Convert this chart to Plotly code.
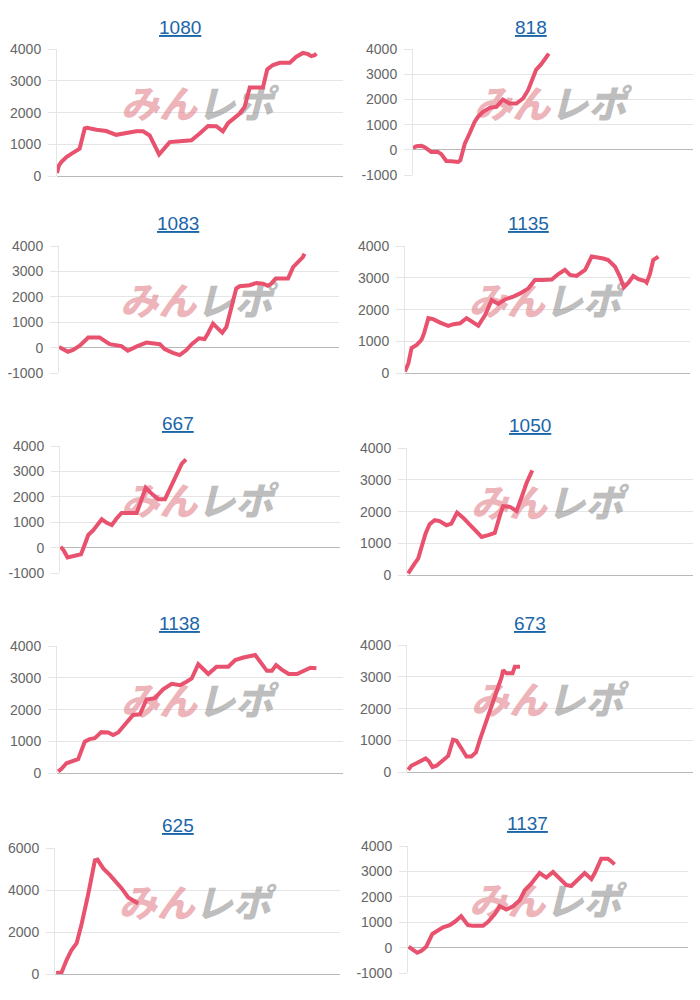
import plotly.graph_objects as go

# ---------------- data ----------------
titles = ["1080", "818", "1083", "1135", "667", "1050", "1138", "673", "625", "1137"]

xs_1080 = [0, 0.7, 1.5, 3.3, 5.0, 7.3, 7.9, 9.7, 10.5, 13.8, 17.2, 20.7, 24.2, 27.7, 30.1, 32.4, 35.7, 37.6,
           39.4, 42.9, 47.0, 49.9, 52.8, 55.7, 58.0, 59.8, 61.5, 63.9, 65.6, 67.4, 72.0, 73.5, 75.5, 77.9,
           81.4, 83.7, 86.0, 87.8, 88.9, 90.1, 90.7]
ys_1080 = [100, 340, 440, 600, 700, 810, 860, 1500, 1520, 1460, 1420, 1300, 1360, 1410, 1410, 1280, 680, 860,
           1070, 1100, 1130, 1340, 1580, 1570, 1410, 1670, 1810, 1970, 2180, 2790, 2790, 3360, 3500, 3570,
           3570, 3760, 3880, 3840, 3780, 3810, 3860]

xs_818 = [0, 1.2, 3.0, 4.2, 6.5, 8.9, 10.1, 11.9, 13.7, 16.1, 16.9, 18.5, 20.2, 22.0, 23.2, 25.0, 27.4, 29.8,
          32.1, 34.5, 36.9, 39.3, 41.1, 42.9, 44.0, 45.8, 47.0, 47.6, 48.5]
ys_818 = [80, 145, 160, 105, -80, -80, -170, -440, -450, -480, -410, 250, 650, 1110, 1310, 1510, 1670, 1710,
          2000, 1840, 1840, 2040, 2370, 2830, 3190, 3400, 3560, 3690, 3820]

xs_1083 = [0, 1.4, 3.2, 5.0, 7.4, 9.8, 10.4, 14.5, 15.7, 18.1, 22.3, 24.6, 27.6, 31.2, 36.0, 37.7, 40.7, 43.1,
           45.5, 47.3, 50.0, 52.0, 53.2, 55.0, 56.8, 58.3, 59.8, 61.5, 63.3, 64.5, 68.1, 70.5, 72.9, 74.6,
           75.8, 77.4, 81.8, 83.6, 85.4, 87.1, 87.7]
ys_1083 = [30, -65, -160, -90, 80, 330, 400, 400, 300, 140, 65, -120, 40, 200, 140, -50, -200, -290,
           -90, 130, 370, 340, 560, 950, 750, 590, 820, 1610, 2330, 2420, 2460, 2550, 2520, 2440,
           2520, 2720, 2720, 3170, 3370, 3570, 3700]

xs_1135 = [0, 1.2, 2.3, 4.1, 5.8, 6.7, 8.2, 9.9, 12.3, 15.2, 17.0, 19.3, 21.6, 24.0, 25.7, 28.1, 30.4, 32.7,
           35.1, 38.0, 40.4, 43.3, 45.6, 48.0, 51.5, 53.8, 56.1, 57.9, 60.2, 63.2, 65.5, 69.6, 71.3, 73.7,
           75.4, 76.8, 78.4, 80.1, 81.9, 84.2, 84.8, 86.0, 87.1, 88.9]
ys_1135 = [50, 310, 790, 890, 1050, 1260, 1730, 1700, 1590, 1490, 1540, 1570, 1730, 1590, 1490, 1830, 2300, 2180,
           2320, 2410, 2510, 2670, 2930, 2930, 2950, 3120, 3250, 3090, 3060, 3250, 3670, 3610, 3560, 3350,
           3040, 2700, 2850, 3060, 2960, 2900, 2850, 3140, 3560, 3670]

xs_667 = [0.2, 1.2, 2.7, 4.2, 5.4, 7.5, 8.3, 10.1, 11.9, 14.9, 16.7, 18.5, 20.2, 22.0, 27.4, 28.6, 30.6, 32.7,
          35.1, 37.5, 39.3, 41.1, 42.3, 43.5, 45.0]
ys_667 = [40, -90, -380, -350, -290, -260, -30, 500, 690, 1120, 980, 890, 1150, 1370, 1370, 1740, 2360, 2130,
          1910, 1910, 2330, 2790, 3120, 3310, 3480]

xs_1050 = [0.4, 1.2, 2.7, 3.9, 5.0, 6.5, 7.9, 9.7, 11.4, 13.8, 15.5, 17.5, 19.6, 22.0, 24.3, 26.1, 28.4, 30.7,
           32.5, 33.6, 36.0, 38.3, 40.1, 41.8, 43.8]
ys_1050 = [50, 180, 370, 520, 890, 1310, 1600, 1730, 1700, 1570, 1620, 1970, 1810, 1570, 1340, 1200, 1260, 1330,
           1880, 2170, 2150, 2020, 2460, 2900, 3300]

xs_1138 = [0.4, 1.5, 3.3, 5.0, 7.4, 9.7, 11.4, 13.2, 15.5, 17.9, 19.6, 21.4, 24.3, 26.6, 29.0, 31.3, 34.2, 37.1,
           40.1, 43.0, 45.3, 47.1, 49.4, 51.2, 52.9, 55.8, 59.9, 62.3, 65.2, 69.3, 71.6, 73.4, 75.1, 76.6,
           78.6, 81.0, 83.9, 86.8, 88.6, 90.7]
ys_1138 = [50, 130, 310, 370, 440, 990, 1070, 1100, 1290, 1280, 1200, 1280, 1570, 1830, 1850, 2320, 2360, 2640,
           2810, 2770, 2880, 2980, 3430, 3260, 3120, 3350, 3350, 3560, 3640, 3720, 3460, 3220, 3220, 3400,
           3260, 3120, 3120, 3250, 3320, 3300]

xs_673 = [0.4, 1.5, 3.3, 5.0, 6.5, 7.7, 8.9, 10.3, 12.0, 14.4, 16.1, 17.3, 19.0, 20.8, 22.5, 24.1, 25.5, 27.2,
          29.0, 31.3, 33.1, 33.6, 34.8, 36.9, 37.7, 39.5]
ys_673 = [70, 200, 280, 360, 430, 340, 160, 200, 340, 510, 1020, 990, 750, 490, 490, 620, 1020, 1490,
          1960, 2530, 3000, 3210, 3110, 3110, 3320, 3320]

xs_625 = [0.4, 2.3, 4.1, 5.8, 7.6, 9.4, 11.7, 14.0, 14.9, 17.0, 19.3, 21.6, 23.4, 25.7, 27.5, 29.2]
ys_625 = [50, 80, 680, 1150, 1470, 2420, 3840, 5420, 5450, 5020, 4710, 4390, 4080, 3650, 3480, 3360]

xs_1137 = [0.2, 1.8, 3.3, 4.8, 6.5, 8.7, 10.7, 12.5, 14.9, 16.7, 19.0, 21.4, 23.2, 26.8, 28.6, 31.0, 32.7, 35.1,
           37.5, 39.9, 41.7, 44.0, 47.0, 49.4, 51.8, 54.2, 56.5, 58.3, 60.7, 63.1, 65.5, 66.7, 69.0, 71.4,
           72.3, 73.8]
ys_1137 = [40, -90, -200, -120, 40, 540, 690, 800, 890, 1020, 1240, 890, 860, 860, 1020, 1320, 1640, 1500,
           1630, 1870, 2260, 2520, 2940, 2760, 2980, 2700, 2470, 2430, 2700, 2940, 2700, 2940, 3500, 3500,
           3430, 3280]

series_x = [xs_1080, xs_818, xs_1083, xs_1135, xs_667, xs_1050, xs_1138, xs_673, xs_625, xs_1137]
series_y = [ys_1080, ys_818, ys_1083, ys_1135, ys_667, ys_1050, ys_1138, ys_673, ys_625, ys_1137]

y_min = [0, -1000, -1000, 0, -1000, 0, 0, 0, 0, -1000]
y_max = [4000, 4000, 4000, 4000, 4000, 4000, 4000, 4000, 6000, 4000]
y_step = [1000, 1000, 1000, 1000, 1000, 1000, 1000, 1000, 2000, 1000]

# ---------------- layout (screen pixels of each panel) ----------------
W, H = 700, 1000
p_left = [57, 413, 59, 405, 60, 407, 57, 407, 55, 408]
p_right = [343, 693, 339, 690, 340, 693, 343, 693, 340, 688]
p_top = [49, 49, 246, 246, 446, 448, 646, 645, 848, 846]
p_bot = [176, 175, 373, 373, 573, 575, 773, 772, 974, 973]
t_x = [180, 531, 178, 528, 178, 530, 180, 530, 178, 527]
t_y = [27, 27, 223, 223, 423, 425, 623, 623, 825, 823]
X_MAX = 100
WM_X, WM_Y = 0.49, 0.53   # watermark position as fraction of plot area


def vy(p):
    """target screen row -> paper fraction (compensates the page's vertical fit)"""
    q = (p - 7.9) / 0.984
    return 1 - q / H


LINE = "rgb(232,82,110)"
GRID = "rgba(0,0,0,0.1)"
ZERO = "rgba(0,0,0,0.28)"
WM_TEXT = ("<span style='color:rgba(226,130,140,0.6)'>みん</span>"
           "<span style='color:rgba(140,140,140,0.58)'>レポ</span>")

fig = go.Figure()
annotations = []
for i in range(10):
    k = i + 1
    xa = "xaxis" if k == 1 else f"xaxis{k}"
    ya = "yaxis" if k == 1 else f"yaxis{k}"
    xr = "x" if k == 1 else f"x{k}"
    yr = "y" if k == 1 else f"y{k}"

    # watermark (drawn beneath the line)
    fig.add_trace(go.Scatter(
        x=[WM_X * X_MAX], y=[y_min[i] + WM_Y * (y_max[i] - y_min[i])],
        mode="text", text=[WM_TEXT], textposition="middle center",
        textfont=dict(family="Noto Sans CJK JP", size=38, weight=900, style="italic"),
        xaxis=xr, yaxis=yr, showlegend=False, hoverinfo="skip"))

    fig.add_trace(go.Scatter(
        x=series_x[i], y=series_y[i], mode="lines",
        line=dict(color=LINE, width=4, shape="linear"),
        xaxis=xr, yaxis=yr, showlegend=False, hoverinfo="skip"))

    tv = list(range(y_min[i], y_max[i] + 1, y_step[i]))
    tt = [str(v) for v in tv]
    fig.layout[xa] = dict(
        domain=[p_left[i] / W, p_right[i] / W], range=[0, X_MAX],
        showgrid=False, zeroline=False, showline=False, showticklabels=False,
        fixedrange=True, anchor=yr)
    fig.layout[ya] = dict(
        domain=[vy(p_bot[i]), vy(p_top[i])], range=[y_min[i], y_max[i]],
        tickvals=tv, ticktext=tt, showgrid=True, gridcolor=GRID, gridwidth=1,
        zeroline=True, zerolinecolor=ZERO, zerolinewidth=1,
        showline=True, linecolor=GRID, linewidth=1,
        ticks="outside", ticklen=8, tickcolor=GRID,
        tickfont=dict(family="Liberation Sans, Arial, sans-serif", size=14, color="#666666"),
        ticklabelstandoff=4, fixedrange=True, anchor=xr)

    annotations.append(dict(
        text=f"<u>{titles[i]}</u>", x=t_x[i] / W, y=vy(t_y[i]),
        xref="paper", yref="paper", showarrow=False, xanchor="center", yanchor="middle",
        font=dict(family="Liberation Sans, Arial, sans-serif", size=19, color="#1a66a8")))

fig.update_layout(
    width=W, height=H, margin=dict(l=0, r=0, t=0, b=0),
    paper_bgcolor="white", plot_bgcolor="white",
    annotations=annotations, showlegend=False)

fig.write_html("out.html")
